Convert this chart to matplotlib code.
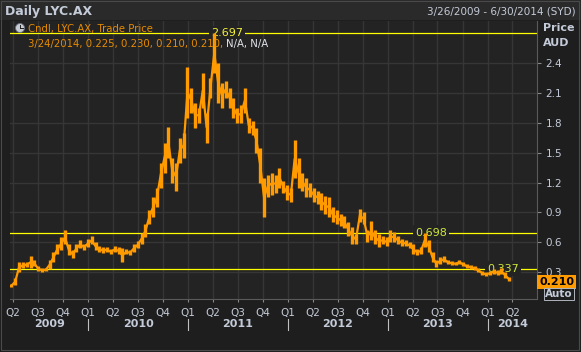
import matplotlib
matplotlib.use("Agg")
import matplotlib.pyplot as plt
import matplotlib.dates as mdates
import matplotlib.patches as mpatches
import matplotlib.transforms as mtransforms
import pandas as pd

# bi-weekly candle ranges (AUD)
dates = pd.date_range("2009-03-26", periods=131, freq="14D")
lows = [
    0.15, 0.17, 0.30, 0.34, 0.35, 0.34, 0.36, 0.31, 0.30, 0.31,
    0.33, 0.40, 0.48, 0.52, 0.58, 0.47, 0.44, 0.50, 0.54, 0.52,
    0.55, 0.58, 0.52, 0.50, 0.49, 0.50, 0.48, 0.50, 0.48, 0.40,
    0.48, 0.47, 0.50, 0.54, 0.58, 0.65, 0.78, 0.85, 0.95, 1.15,
    1.30, 1.45, 1.20, 1.12, 1.40, 1.45, 1.85, 1.90, 1.75, 1.80,
    1.95, 1.60, 2.05, 2.30, 2.00, 1.95, 2.05, 1.95, 1.85, 1.80,
    1.80, 1.90, 1.70, 1.68, 1.50, 1.20, 0.85, 1.05, 1.08, 1.10,
    1.15, 1.10, 1.02, 1.00, 1.25, 1.15, 1.12, 1.05, 1.05, 1.00,
    0.98, 0.92, 0.88, 0.85, 0.80, 0.78, 0.76, 0.74, 0.66, 0.58,
    0.58, 0.80, 0.78, 0.60, 0.62, 0.58, 0.55, 0.58, 0.56, 0.60,
    0.60, 0.58, 0.56, 0.56, 0.54, 0.48, 0.47, 0.48, 0.55, 0.50,
    0.40, 0.35, 0.38, 0.40, 0.38, 0.37, 0.37, 0.38, 0.36, 0.34,
    0.33, 0.32, 0.30, 0.27, 0.26, 0.27, 0.28, 0.27, 0.28, 0.24,
    0.21,
]
highs = [
    0.18, 0.24, 0.40, 0.40, 0.40, 0.46, 0.42, 0.36, 0.34, 0.34,
    0.42, 0.50, 0.58, 0.65, 0.72, 0.58, 0.52, 0.58, 0.62, 0.58,
    0.63, 0.66, 0.60, 0.56, 0.55, 0.55, 0.53, 0.56, 0.55, 0.54,
    0.53, 0.52, 0.58, 0.61, 0.69, 0.78, 0.92, 1.05, 1.15, 1.40,
    1.60, 1.76, 1.45, 1.40, 1.65, 1.70, 2.36, 2.15, 2.00, 1.95,
    2.30, 1.90, 2.25, 2.697, 2.40, 2.20, 2.22, 2.15, 2.05, 1.95,
    1.98, 2.15, 1.85, 1.82, 1.75, 1.55, 1.25, 1.28, 1.30, 1.28,
    1.35, 1.22, 1.18, 1.15, 1.63, 1.45, 1.30, 1.25, 1.20, 1.15,
    1.12, 1.10, 1.06, 1.05, 0.95, 0.92, 0.88, 0.86, 0.80, 0.75,
    0.68, 0.93, 0.90, 0.72, 0.81, 0.72, 0.68, 0.66, 0.65, 0.72,
    0.70, 0.66, 0.63, 0.62, 0.60, 0.58, 0.53, 0.55, 0.698, 0.62,
    0.50, 0.42, 0.45, 0.46, 0.42, 0.41, 0.40, 0.42, 0.40, 0.38,
    0.37, 0.36, 0.34, 0.31, 0.30, 0.31, 0.33, 0.32, 0.34, 0.30,
    0.25,
]
y_ticks = [0.3, 0.6, 0.9, 1.2, 1.5, 1.8, 2.1, 2.4]
ref_levels = [2.697, 0.698, 0.337]
ref_label_pos = [0.412, 0.799, 0.935]
last_price = "0.210"

W, H = 581, 352
BG = "#1e1e1e"
PLOT_BG = "#232323"
GRID = "#363636"
TXT = "#c4cbd8"
ORANGE = "#ff9a00"


def fx(x):
    return x / W


def fy(y):
    return 1 - y / H


fig = plt.figure(figsize=(W / 100, H / 100), dpi=100, facecolor=BG)

# header strip and panel border
fig.add_artist(mpatches.Rectangle((0, fy(20)), 1, 20 / H, transform=fig.transFigure,
                                  facecolor="#2a2a2a", edgecolor="none"))
fig.add_artist(mpatches.Rectangle((fx(1), fy(350)), fx(578), 349 / H, transform=fig.transFigure,
                                  facecolor="none", edgecolor="#4a4a4a", lw=0.8))
fig.text(fx(5), fy(12), "Daily LYC.AX", color=TXT, fontsize=9, fontweight="bold", va="center")
fig.text(fx(576), fy(12), "3/26/2009 - 6/30/2014 (SYD)", color=TXT, fontsize=7.5,
         va="center", ha="right")

ax = fig.add_axes([fx(10), fy(299), (537 - 10) / W, (299 - 21) / H], facecolor=PLOT_BG)
ax.set_xlim(pd.Timestamp("2009-03-21"), pd.Timestamp("2014-06-30"))
ax.set_ylim(0.032, 2.82)

for s in ["top", "left"]:
    ax.spines[s].set_visible(False)
for s in ["right", "bottom"]:
    ax.spines[s].set_color("#5a5a5a")
    ax.spines[s].set_linewidth(0.8)

ax.xaxis.set_major_locator(mdates.MonthLocator(bymonth=[1, 4, 7, 10]))
ax.xaxis.set_major_formatter(plt.FuncFormatter(
    lambda v, p: "Q%d" % ((mdates.num2date(v).month - 1) // 3 + 1)))
ax.yaxis.tick_right()
ax.set_yticks(y_ticks)
ax.set_yticklabels(["%.1f" % t for t in y_ticks])
ax.tick_params(axis="x", colors=TXT, labelsize=7.5, length=2.5, pad=4, color="#8a8a8a")
ax.tick_params(axis="y", colors=TXT, labelsize=7.5, length=3, pad=3, color="#8a8a8a")
ax.grid(True, color=GRID, lw=1.0)
ax.set_axisbelow(True)

# candles as high-low bars, joined so the series reads as one band
mids = [(lo + hi) / 2 for lo, hi in zip(lows, highs)]
ax.vlines(dates, lows, highs, color=ORANGE, lw=2.4, zorder=3)
ax.plot(dates, mids, color=ORANGE, lw=1.6, zorder=3, solid_joinstyle="miter")

# reference price levels
for lvl, pos in zip(ref_levels, ref_label_pos):
    ax.axhline(lvl, color="#ffff00", lw=0.9, zorder=2)
    lab_col = "#f2f23a" if lvl > 2 else "#cfe83a"
    ax.text(pos, lvl, "%.3f" % lvl, transform=ax.get_yaxis_transform(), color=lab_col,
            fontsize=8, ha="center", va="center", zorder=2.5,
            bbox=dict(facecolor=PLOT_BG, edgecolor="none", pad=1.5))

# legend lines
fig.add_artist(mpatches.Circle((20 / 100, (H - 28) / 100), 0.045, transform=fig.dpi_scale_trans,
                               facecolor="#c8ccd4", edgecolor="#6a7080", lw=0.6, zorder=5))
fig.add_artist(plt.Line2D([20 / 100, 20 / 100], [(H - 28) / 100, (H - 25) / 100],
                          transform=fig.dpi_scale_trans, color="#202020", lw=0.7, zorder=6))
fig.add_artist(plt.Line2D([20 / 100, 22.5 / 100], [(H - 28) / 100, (H - 28) / 100],
                          transform=fig.dpi_scale_trans, color="#202020", lw=0.7, zorder=6))
fig.text(fx(28), fy(29), "Cndl, LYC.AX, Trade Price", color="#e88c00", fontsize=7.3,
         va="center", zorder=5)
t1 = fig.text(fx(28), fy(44), "3/24/2014, 0.225, 0.230, 0.210, 0.210, ", color="#e88c00",
              fontsize=7.3, va="center", zorder=5)
fig.canvas.draw()
bb = t1.get_window_extent()
fig.text(bb.x1 / W, fy(44), "N/A, N/A", color="#e0e4ea", fontsize=7.3, va="center", zorder=5)

# right axis captions
fig.text(fx(543), fy(28), "Price", color=TXT, fontsize=8, fontweight="bold", va="center")
fig.text(fx(543), fy(43), "AUD", color=TXT, fontsize=8, fontweight="bold", va="center")
fig.text(fx(539), fy(282), last_price, color="black", fontsize=8, fontweight="bold", va="center",
         bbox=dict(facecolor=ORANGE, edgecolor="none", pad=1.2))
fig.text(fx(545), fy(294), "Auto", color=TXT, fontsize=7.5, fontweight="bold", va="center",
         bbox=dict(facecolor="none", edgecolor="#b0b4bc", pad=0.8, lw=0.7))

# year labels and separators
years = [2009, 2010, 2011, 2012, 2013, 2014]
x0, x1 = ax.get_xlim()
sep_tr = mtransforms.blended_transform_factory(ax.transData, fig.transFigure)
for yr in years:
    a = max(mdates.date2num(pd.Timestamp(f"{yr}-01-01")), x0)
    b = min(mdates.date2num(pd.Timestamp(f"{yr + 1}-01-01")), x1)
    fig.text(0, fy(324), str(yr), color=TXT, fontsize=8, fontweight="bold", ha="center",
             va="center", transform=sep_tr).set_x((a + b) / 2)
    if yr > 2009:
        fig.add_artist(plt.Line2D([a, a], [fy(319), fy(330)], transform=sep_tr,
                                  color="#c0c0c0", lw=0.8))

fig.savefig("out.png", dpi=100, facecolor=BG)
